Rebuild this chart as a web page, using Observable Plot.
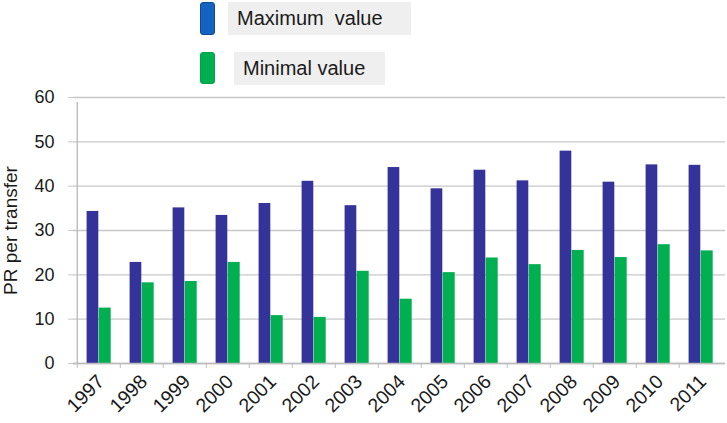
<!DOCTYPE html>
<html>
<head>
<meta charset="utf-8">
<script src="https://cdn.jsdelivr.net/npm/d3@7"></script>
<script src="https://cdn.jsdelivr.net/npm/@observablehq/plot@0.6"></script>
<style>
  html, body { margin: 0; padding: 0; background: #fff; }
  body { font-family: "Liberation Sans", Arial, sans-serif; color: #1a1a1a; }
  #legend { position: relative; width: 727px; height: 90px; }
  .sw { position: absolute; left: 200px; width: 15px; border-radius: 3px; box-sizing: border-box; }
  .lb { position: absolute; background: #efefef; font-size: 20px; line-height: 33px; height: 33px; box-sizing: border-box; padding-left: 9px; white-space: pre; }
  #chart svg { display: block; }
</style>
</head>
<body>
<div id="legend"></div>
<div id="chart"></div>
<script>
const years = ["1997","1998","1999","2000","2001","2002","2003","2004","2005","2006","2007","2008","2009","2010","2011"];
const maxValues = [34.3, 22.8, 35.1, 33.4, 36.1, 41.1, 35.6, 44.2, 39.4, 43.6, 41.2, 47.9, 40.9, 44.8, 44.7];
const minValues = [12.5, 18.2, 18.5, 22.8, 10.8, 10.4, 20.8, 14.5, 20.5, 23.8, 22.3, 25.5, 23.9, 26.8, 25.4];
const seriesNames = ["Maximum  value", "Minimal value"];
const yTicks = [0, 10, 20, 30, 40, 50, 60];
const yLabel = "PR per transfer";

const data = years.map((year, i) => ({year, max: maxValues[i], min: minValues[i]}));

// Legend (HTML, above the SVG)
const legend = document.getElementById("legend");
legend.innerHTML = `
  <div class="sw" style="top:2px;height:33px;background:#1563c0;border:1px solid #0d4a94;"></div>
  <div class="lb" style="left:228px;top:2px;width:183px;">${seriesNames[0]}</div>
  <div class="sw" style="top:52px;height:32px;background:#00b050;border:1px solid #00a049;"></div>
  <div class="lb" style="left:234px;top:52px;width:151px;">${seriesNames[1]}</div>
`;

const W = 727, H = 333, mL = 73, mR = 2;
const bw = (W - mL - mR) / years.length;

const chart = Plot.plot({
  width: W,
  height: H,
  marginTop: 7,
  marginLeft: mL,
  marginRight: mR,
  marginBottom: 60,
  style: {fontFamily: "'Liberation Sans', Arial, sans-serif", fontSize: "18px", color: "#1a1a1a", background: "white", overflow: "visible"},
  x: {domain: years, padding: 0, axis: null},
  y: {domain: [0, 60], axis: null},
  marks: [
    Plot.ruleY(yTicks, {stroke: "#c8c8c8", strokeWidth: 1.4}),
    Plot.barY(data, {x: "year", y: "max", fill: "#333399", insetLeft: 9.6, insetRight: 21.7}),
    Plot.barY(data, {x: "year", y: "min", fill: "#00b050", insetLeft: 21.7, insetRight: 9.3}),
    Plot.ruleY([0], {stroke: "#bdbdbd", strokeWidth: 1.4}),
    Plot.ruleX([years[0]], {y1: 0, y2: 60, dx: -bw / 2, stroke: "#bdbdbd", strokeWidth: 1.4, insetBottom: -5}),
    Plot.axisY({ticks: yTicks, tickSize: 5, tickPadding: 14, stroke: "#c8c8c8", fontSize: 18, label: null}),
    Plot.axisY({ticks: [], tickSize: 0, label: yLabel, labelAnchor: "center", labelArrow: "none", labelOffset: 70, fontSize: 19}),
    Plot.axisX({tickSize: 5, tickFormat: () => "", dx: -bw / 2, stroke: "#bdbdbd", label: null}),
    Plot.axisX({tickSize: 0, tickRotate: -45, tickPadding: 15, dx: 2, fontSize: 19.5, label: null})
  ]
});
document.getElementById("chart").appendChild(chart);
</script>
</body>
</html>
